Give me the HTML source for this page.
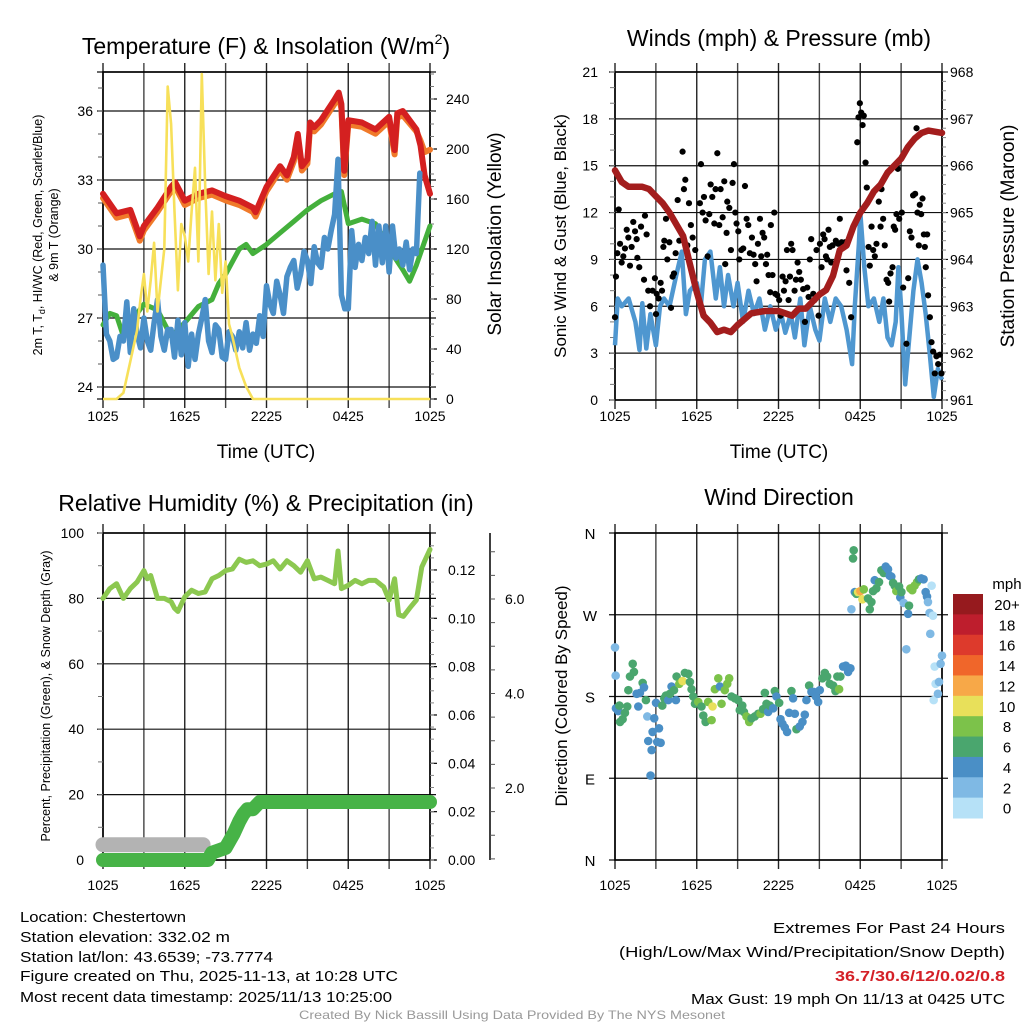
<!DOCTYPE html>
<html><head><meta charset="utf-8"><style>
body{margin:0;background:#fff;}
svg{display:block;font-family:"Liberation Sans",sans-serif;}
</style></head><body>
<svg id="chart" width="1024" height="1024" viewBox="0 0 1024 1024" xmlns="http://www.w3.org/2000/svg">
<rect x="0" y="0" width="1024" height="1024" fill="#fff"/>
<g id="static" font-family="Liberation Sans, sans-serif" fill="#000">
<text x="266" y="54" font-size="23" text-anchor="middle">Temperature (F) &amp; Insolation (W/m<tspan font-size="14" dy="-10">2</tspan><tspan dy="10">)</tspan></text>
<text x="779" y="46" font-size="23" text-anchor="middle">Winds (mph) &amp; Pressure (mb)</text>
<text x="266" y="511" font-size="23" text-anchor="middle">Relative Humidity (%) &amp; Precipitation (in)</text>
<text x="779" y="505" font-size="23" text-anchor="middle">Wind Direction</text>
<text x="266" y="458" font-size="19" text-anchor="middle">Time (UTC)</text>
<text x="779" y="458" font-size="19" text-anchor="middle">Time (UTC)</text>
<text transform="translate(42,235) rotate(-90)" font-size="12.5" text-anchor="middle">2m T, T<tspan font-size="9" dy="3">d</tspan><tspan dy="-3">, HI/WC (Red, Green, Scarlet/Blue)</tspan></text>
<text transform="translate(58,235) rotate(-90)" font-size="12.5" text-anchor="middle">&amp; 9m T (Orange)</text>
<text transform="translate(501,234) rotate(-90)" font-size="19" text-anchor="middle">Solar Insolation (Yellow)</text>
<text transform="translate(566,236) rotate(-90)" font-size="17" text-anchor="middle">Sonic Wind &amp; Gust (Blue, Black)</text>
<text transform="translate(1014,236) rotate(-90)" font-size="19" text-anchor="middle">Station Pressure (Maroon)</text>
<text transform="translate(50,696) rotate(-90)" font-size="12.5" text-anchor="middle">Percent, Precipitation (Green), &amp; Snow Depth (Gray)</text>
<text transform="translate(567,696) rotate(-90)" font-size="17" text-anchor="middle">Direction (Colored By Speed)</text>
<g font-size="14.5">
<text x="20" y="922" textLength="166" lengthAdjust="spacingAndGlyphs">Location: Chestertown</text>
<text x="20" y="942" textLength="210" lengthAdjust="spacingAndGlyphs">Station elevation: 332.02 m</text>
<text x="20" y="962" textLength="253" lengthAdjust="spacingAndGlyphs">Station lat/lon: 43.6539; -73.7774</text>
<text x="20" y="981" textLength="378" lengthAdjust="spacingAndGlyphs">Figure created on Thu, 2025-11-13, at 10:28 UTC</text>
<text x="20" y="1002" textLength="372" lengthAdjust="spacingAndGlyphs">Most recent data timestamp: 2025/11/13 10:25:00</text>
</g>
<g font-size="14.5" text-anchor="end">
<text x="1005" y="933" textLength="232" lengthAdjust="spacingAndGlyphs">Extremes For Past 24 Hours</text>
<text x="1005" y="957" textLength="386" lengthAdjust="spacingAndGlyphs">(High/Low/Max Wind/Precipitation/Snow Depth)</text>
<text x="1005" y="981" font-weight="bold" fill="#d42027" textLength="170" lengthAdjust="spacingAndGlyphs">36.7/30.6/12/0.02/0.8</text>
<text x="1005" y="1004" textLength="314" lengthAdjust="spacingAndGlyphs">Max Gust: 19 mph On 11/13 at 0425 UTC</text>
</g>
<text x="512" y="1019" font-size="12" fill="#999" text-anchor="middle" textLength="426" lengthAdjust="spacingAndGlyphs">Created By Nick Bassill Using Data Provided By The NYS Mesonet</text>
</g>
</svg>
<script>
// ---------- Temperature panel data ----------
const redTimes = [0,1,2,2.7,3,4,5,5.3,6,7,8,9,10,11,11.2,12,13,13.5,14,14.3,14.6,15,15.2,15.5,16,17,17.3,17.5,17.7,18,19,20,21,21.4,21.6,22,23,23.3,23.6,24];
const redVals = [32.4,31.55,31.7,30.55,31.0,31.8,32.7,32.9,32.1,32.4,32.55,32.3,32.1,31.8,31.6,32.7,33.6,33.2,34.0,35.0,33.6,33.9,35.5,35.3,35.6,36.5,36.8,36.3,33.4,35.6,35.5,35.2,35.75,34.3,35.9,36.0,35.2,34.5,33.2,32.4];
const orangeVals = [32.3,31.45,31.6,30.45,30.9,31.7,32.6,32.8,32.0,32.3,32.45,32.2,32.0,31.7,31.5,32.6,33.5,33.1,33.9,34.9,33.5,33.8,35.4,35.2,35.5,36.4,36.7,36.2,33.3,35.5,35.4,35.1,35.65,34.2,35.8,35.9,35.2,34.8,34.3,34.4];
const greenTimes = [0,0.5,1,1.5,2,2.5,3,4,5,6,7,8,8.5,9,10,10.5,11,12,13,14,15,16,17,17.5,18,19,20,21,22,22.5,23,24];
const greenVals = [26.7,27.2,27.1,26.2,26.6,27.2,27.6,27.35,26.2,26.8,27.5,27.8,28.5,28.9,30.0,30.2,29.8,30.2,30.7,31.2,31.7,32.1,32.4,32.5,31.1,31.3,31.1,30.0,29.1,28.6,29.3,31.0];
const blueTimes = [0,0.25,0.5,0.75,1,1.25,1.5,1.75,2,2.25,2.5,2.75,3,3.25,3.5,3.75,4,4.25,4.5,4.75,5,5.25,5.5,5.75,6,6.25,6.5,6.75,7,7.25,7.5,7.75,8,8.25,8.5,8.75,9,9.25,9.5,9.75,10,10.25,10.5,10.75,11,11.25,11.5,11.75,12,12.25,12.5,12.75,13,13.25,13.5,13.75,14,14.25,14.5,14.75,15,15.25,15.5,15.75,16,16.25,16.5,16.75,17,17.25,17.5,17.75,18,18.25,18.5,18.75,19,19.25,19.5,19.75,20,20.25,20.5,20.75,21,21.25,21.5,21.75,22,22.25,22.5,22.75,23,23.25];
const blueVals = [29.3,26.3,26.0,25.2, 25.3,26.2,26.0,27.7, 25.5,27.4,26.3,25.7, 27.0,26.0,25.6,26.8, 27.8,26.2,25.6,26.5, 26.5,25.3,26.9,25.4, 26.8,24.9,26.3,25.2, 26.3,27.0,27.8,26.0, 25.5,26.7,26.5,25.3, 25.2,26.4,26.2,25.6, 26.4,25.7,26.8,25.6, 26.3,25.9,27.1,26.2, 28.4,27.6,27.2,28.6, 28.0,27.2,28.8,29.2, 29.5,28.3,28.9,29.9, 29.5,28.5,30.1,29.4, 29.2,30.5,30.0,30.8, 31.5,33.9,28.0,27.4, 27.4,30.8,29.2,30.2, 29.5,30.5,29.8,31.2, 29.3,31.0,29.4,31.0, 29.0,31.0,29.6,30.0, 29.3,30.3,29.1,30.0, 29.8,33.3];
const solarTimes = [0,1,1.5,2,2.5,2.75,3,3.25,3.5,3.75,4,4.5,4.75,5,5.25,5.5,5.75,6,6.25,6.5,6.75,7,7.25,7.5,7.75,8,8.25,8.5,8.75,9,9.25,9.5,10,10.5,11,24];
const solarVals = [0,0,5,30,55,80,100,70,95,125,70,120,250,220,150,87,140,130,110,150,185,110,260,170,100,150,95,140,85,110,60,50,25,10,0,0];
const tempTicks = [24,27,30,33,36];
const solarTicks = [0,40,80,120,160,200,240];
const timeLabels = ["1025","1625","2225","0425","1025"];
// ---------- Winds panel data ----------
const windTimes = [0,0.2,0.5,1,1.5,1.8,2,2.3,2.6,3,3.3,3.6,4,4.5,4.9,5.2,5.5,6,6.3,6.6,7,7.4,7.7,8,8.3,8.7,9,9.4,9.8,10.2,10.6,11,11.4,11.8,12.2,12.5,12.9,13.2,13.6,13.9,14.3,14.7,15,15.4,15.8,16.2,16.6,17,17.4,17.6,17.9,18,18.3,18.6,19,19.4,19.7,20,20.3,20.6,20.8,21,21.3,21.6,21.9,22.2,22.5,22.8,23.1,23.4,23.7,24];
const windVals = [3.5,6.5,6.0,6.5,5.0,3.2,6.2,3.3,5.5,3.5,6.0,6.5,6.0,8.0,9.5,5.5,7.0,7.5,6.0,9.0,9.5,6.5,8.5,6.0,8.0,6.0,7.5,5.0,7.0,5.5,6.5,4.5,6.0,4.5,5.5,4.3,5.5,4.0,6.5,3.5,6.0,4.5,3.8,6.5,5.0,6.5,6.0,4.5,2.3,6.0,10.0,12.0,8.5,6.0,6.5,5.0,6.5,4.0,3.5,5.0,8.5,6.0,1.0,4.0,7.0,9.0,7.5,5.5,3.0,0.2,2.0,1.3];
const pressTimes = [0,0.5,1,2,2.5,3,3.5,4,5,5.5,6,6.5,7,7.5,8,8.5,9,10,11,12,12.5,13,13.5,14,14.5,15,15.5,16,16.5,17,17.5,18,18.5,19,19.5,20,21,21.5,22,22.5,23,24];
const pressVals = [965.9,965.65,965.55,965.55,965.5,965.35,965.2,965.0,964.5,963.9,963.3,962.8,962.65,962.45,962.5,962.45,962.6,962.85,962.9,962.9,962.85,962.8,962.95,962.95,963.1,963.25,963.35,963.65,964.2,964.3,964.7,965.0,965.2,965.45,965.6,965.85,966.15,966.4,966.58,966.7,966.75,966.7];
const gustTimes = [0.0,0.07,0.27,0.37,0.17,0.49,0.61,0.73,0.86,0.98,1.10,1.22,1.34,1.47,1.59,1.64,1.78,1.91,2.13,2.20,2.32,2.44,2.57,2.76,2.93,3.01,3.06,3.20,3.35,3.45,3.55,3.62,3.74,3.84,3.99,4.11,4.23,4.33,4.45,4.60,4.72,4.96,5.06,5.16,5.31,5.43,5.57,5.70,5.89,6.23,6.31,6.43,6.53,6.65,6.80,6.92,7.02,7.14,7.29,7.38,7.51,7.65,7.75,7.90,8.02,8.09,8.19,8.24,8.39,8.51,8.63,8.73,8.83,8.92,9.05,9.12,9.27,9.41,9.54,9.66,9.78,9.90,10.05,10.17,10.29,10.39,10.49,10.64,10.73,10.83,10.95,11.08,11.17,11.27,11.39,11.44,11.56,11.69,11.76,11.91,12.05,12.15,12.30,12.40,12.52,12.62,12.74,12.84,12.93,13.03,13.18,13.28,13.40,13.52,13.64,13.81,13.94,14.11,14.21,14.30,14.40,14.55,14.65,14.79,14.94,15.04,15.16,15.28,15.38,15.48,15.57,15.67,15.77,15.87,15.97,16.11,16.21,16.38,16.50,16.63,16.75,16.89,16.99,17.19,17.33,17.78,17.87,17.97,18.07,18.17,18.26,18.39,18.48,18.61,18.70,18.83,18.95,19.07,19.19,19.36,19.49,19.56,19.68,19.80,19.93,20.05,20.12,20.22,20.37,20.46,20.56,20.66,20.76,20.86,21.05,21.15,21.39,21.52,21.64,21.76,21.88,22.03,22.13,22.20,22.30,22.37,22.47,22.57,22.67,22.74,22.81,22.91,22.98,23.11,23.23,23.35,23.47,23.59,23.72,23.84,23.96];
const gustVals = [5.3,7.9,12.2,10.0,9.4,8.8,9.2,9.7,10.9,10.4,8.6,9.8,11.4,10.8,10.3,9.1,8.5,11.1,7.7,11.8,10.6,7.0,6.0,7.0,7.8,5.5,6.8,6.5,7.5,7.0,9.8,10.2,11.6,9.0,10.1,5.9,7.9,8.1,9.4,12.8,10.2,15.9,13.5,14.1,9.9,12.6,11.2,10.4,9.6,12.6,15.1,12.0,13.0,11.5,9.2,11.9,13.8,13.0,11.3,13.5,15.8,11.2,13.5,11.7,14.0,8.7,10.7,12.7,12.3,9.6,13.9,15.1,12.0,11.3,10.8,9.0,9.6,9.7,13.7,11.6,11.2,9.4,10.4,9.3,8.7,7.6,10.0,11.6,9.2,10.7,10.4,8.7,9.3,8.0,6.9,11.2,8.0,12.0,6.8,6.7,6.4,5.4,7.9,7.0,7.6,9.6,6.4,7.9,10.0,9.6,7.0,7.7,8.8,8.2,7.7,7.1,5.0,7.2,6.6,9.0,10.3,6.8,6.4,9.6,5.4,10.0,8.5,10.6,10.3,9.2,9.0,10.9,9.8,8.8,9.9,8.3,10.2,10.0,11.6,10.1,9.8,10.1,8.3,7.5,5.3,16.5,18.1,19.0,18.4,17.6,18.2,15.2,13.6,9.8,8.6,11.1,9.6,9.2,10.0,12.7,11.1,13.5,11.6,9.9,7.7,7.5,6.3,8.1,8.5,11.1,10.9,11.9,14.8,11.6,12.0,7.2,3.6,7.8,10.8,10.4,13.1,13.2,17.4,12.0,9.9,12.5,11.9,12.9,10.6,9.8,8.5,10.6,6.7,5.3,3.7,3.1,1.7,2.8,2.3,2.9,1.7];
const windTicks = [0,3,6,9,12,15,18,21];
const pressTicks = [961,962,963,964,965,966,967,968];
// ---------- Humidity panel data ----------
const rhTimes = [0,0.5,1,1.5,2,2.5,3,3.25,3.5,4,4.5,5,5.25,5.5,6,6.5,7,7.5,8,8.5,9,9.5,10,10.5,11,11.5,12,12.5,13,13.5,14,14.5,15,15.5,16,16.5,17,17.25,17.5,18,18.5,19,19.5,20,20.6,21,21.4,21.7,22.05,22.5,23,23.4,24];
const rhVals = [80,83,84.5,80,83,85,88.5,86,87,80,80,79,77,76,80.5,82.5,81.5,82,86,87,88.5,89,92,91,91.5,90,90.5,91.5,89,91.5,90,88,91.5,86,86.5,85.5,84.5,94.5,83,84,85.5,84.5,85.5,85.5,83.5,79.5,86,75,74.5,77,79.5,89.6,95];
const precipTimes = [0,7.7,8,8.5,9,9.3,9.6,10,10.3,10.6,11,11.5,12,24];
const precipVals = [0,0,0.003,0.004,0.005,0.008,0.011,0.016,0.019,0.021,0.021,0.024,0.024,0.024];
const snowTimes = [0,7.35];
const snowVals = [0.8,0.8];
const rhTicks = [0,20,40,60,80,100];
const precipTicks = ["0.00","0.02","0.04","0.06","0.08","0.10","0.12"];
const snowTicks = ["2.0","4.0","6.0"];
// ---------- Wind direction panel data ----------
const dirTimes = [0.0,0.05,0.07,0.24,0.32,0.37,0.56,0.73,0.90,0.98,1.10,1.30,1.39,1.59,1.71,1.83,2.03,2.13,2.27,2.37,2.44,2.61,2.69,2.76,2.88,3.01,3.10,3.23,3.35,3.47,3.62,3.74,3.91,4.03,4.15,4.33,4.47,4.52,4.72,4.96,5.13,5.38,5.50,5.62,5.74,5.87,6.11,6.35,6.48,6.65,6.84,7.09,7.16,7.33,7.58,7.70,7.82,8.06,8.24,8.38,8.55,8.80,9.04,9.16,9.34,9.46,9.65,9.85,10.02,10.26,10.51,10.68,10.87,11.00,11.12,11.24,11.36,11.61,11.73,11.85,12.05,12.15,12.29,12.46,12.63,12.78,12.95,13.07,13.20,13.32,13.56,13.76,13.93,14.05,14.25,14.42,14.59,14.74,14.91,15.03,15.22,15.40,15.57,15.76,16.01,16.18,16.32,16.45,16.54,16.74,16.94,17.11,17.28,17.35,17.47,17.52,17.60,17.72,17.84,18.01,18.16,18.26,18.57,18.70,18.82,18.94,19.06,19.18,19.38,19.55,19.72,19.87,20.04,20.16,20.28,20.41,20.53,20.65,20.85,20.94,21.02,21.19,21.38,21.51,21.58,21.68,21.82,21.99,22.17,22.31,22.48,22.65,22.80,22.90,22.97,23.09,23.14,23.24,23.34,23.46,23.53,23.39,23.70,23.78,23.90,24.00];
const dirVals = [234,203,167,164,170,152,155,162,169,187,202,216,207,183,169,184,195,190,176,158,131,93,121,141,156,173,130,145,129,170,178,181,176,183,191,187,176,202,194,197,206,205,196,188,180,172,174,169,159,152,174,154,169,188,200,191,172,187,194,200,180,178,176,165,170,163,158,152,156,158,161,161,166,184,172,163,170,167,186,180,173,155,150,146,141,162,186,178,161,144,147,152,160,176,192,185,185,180,174,187,200,206,202,194,192,186,202,188,202,213,214,207,211,276,332,341,295,293,295,296,287,298,288,276,284,296,308,299,306,319,316,323,320,313,312,305,302,296,301,289,295,283,232,271,280,299,297,302,306,309,310,309,295,290,284,272,249,302,269,213,194,176,183,196,216,225];
const dirSpeeds = [3,3,5,5,7,7,7,7,7,7,7,7,7,5,5,5,7,5,7,3,5,5,5,5,5,5,5,5,5,7,7,7,5,7,5,7,5,7,9,11,7,7,7,7,7,7,9,7,7,7,9,9,11,9,9,5,9,9,9,9,7,7,7,7,7,7,9,9,7,7,7,9,7,7,7,5,7,5,7,5,7,5,5,5,5,5,7,5,5,7,5,5,5,5,7,5,5,5,5,5,7,7,7,7,7,7,7,9,7,5,5,5,5,3,7,7,5,7,11,13,11,9,7,7,7,7,5,7,7,7,7,5,5,5,5,7,7,9,7,5,7,3,3,5,7,9,9,9,9,7,5,5,5,5,3,3,3,1,1,1,1,1,3,3,3,3];
const dirTickLabels = ["N","E","S","W","N"];
const speedLabels = ["0","2","4","6","8","10","12","14","16","18","20+"];
const speedColors = ["#b6e1f7","#7fb9e4","#4a8fc6","#4aa66e","#7cc24a","#e8e05a","#f7a848","#f0662a","#dd3a2c","#be1e2d","#961a1e"];

// ---------- drawing ----------
const svg = document.getElementById('chart');
const NS = 'http://www.w3.org/2000/svg';
function mk(tag, attrs, parent){
  const el = document.createElementNS(NS, tag);
  for (const k in attrs) el.setAttribute(k, attrs[k]);
  (parent || svg).appendChild(el);
  return el;
}
function txt(x, y, s, size, anchor, parent){
  const el = mk('text', {x:x, y:y, 'font-size':size, 'text-anchor':anchor, fill:'#000'}, parent);
  el.textContent = s;
  return el;
}
function pathFrom(times, vals, xf, yf){
  let d = '';
  for (let i = 0; i < times.length; i++) d += (i ? 'L' : 'M') + xf(times[i]).toFixed(1) + ',' + yf(vals[i]).toFixed(1);
  return d;
}
function frame(X0, X1, top, bot, name, hLines){
  const g = mk('g', {});
  
  
  for (let i = 0; i <= 8; i++){
    const x = X0 + i * (X1 - X0) / 8;
    const l = mk('line', {x1:x, x2:x, y1:top - 9, y2:bot + 9, stroke:(i % 2 ? '#444' : '#222'), 'stroke-width':1.4}, g);
    
    
  }
  hLines.forEach(y => {
    const l = mk('line', {x1:X0 - 6, x2:X1 + 6, y1:y, y2:y, stroke:'#111', 'stroke-width':1.2}, g);
    
    
  });
  const b = mk('rect', {x:X0, y:top, width:X1 - X0, height:bot - top, fill:'none', stroke:'#000', 'stroke-width':1.6}, g);
  
  
  return g;
}
function timeAxis(X0, X1, y){
  const g = mk('g', {});
  
  
  timeLabels.forEach((s, i) => {
    const t = txt(X0 + i * (X1 - X0) / 4, y, s, 14, 'middle', g);
    
    
  });
}

// Panel A: temperature
const A = {X0:103, X1:430, top:72, bot:399};
const xA = t => A.X0 + t * (A.X1 - A.X0) / 24;
const yT = v => 111 + (36 - v) * 23;
const yS = v => A.bot - v * 1.25;
frame(A.X0, A.X1, A.top, A.bot, 'temperature-plot-frame', tempTicks.map(yT).concat([A.top, A.bot]));
tempTicks.forEach(v => {
  const t = txt(93, yT(v) + 5, String(v), 14, 'end');
  
  
});
for (let v = 24; v <= 37.5; v += 1) mk('line', {x1:A.X0 - 5, x2:A.X0, y1:yT(v), y2:yT(v), stroke:'#555', 'stroke-width':1});
solarTicks.forEach(v => {
  const t = txt(446, yS(v) + 5, String(v), 14, 'start');
  
  
  mk('line', {x1:A.X1, x2:A.X1 + 7, y1:yS(v), y2:yS(v), stroke:'#000', 'stroke-width':1.2});
});
for (let v = 0; v <= 260; v += 10) mk('line', {x1:A.X1, x2:A.X1 + 4, y1:yS(v), y2:yS(v), stroke:'#777', 'stroke-width':1});
timeAxis(A.X0, A.X1, 421);
const pOr = mk('path', {d:pathFrom(redTimes, orangeVals, xA, v => yT(v) + 2), fill:'none', stroke:'#f07a2a', 'stroke-width':6, 'stroke-linejoin':'round', 'stroke-linecap':'round'});


const pRed = mk('path', {d:pathFrom(redTimes, redVals, xA, yT), fill:'none', stroke:'#d42020', 'stroke-width':6, 'stroke-linejoin':'round', 'stroke-linecap':'round'});


const pGr = mk('path', {d:pathFrom(greenTimes, greenVals, xA, yT), fill:'none', stroke:'#44b03c', 'stroke-width':5, 'stroke-linejoin':'round', 'stroke-linecap':'round'});


const pBl = mk('path', {d:pathFrom(blueTimes, blueVals, xA, yT), fill:'none', stroke:'#4a8fc8', 'stroke-width':5.5, 'stroke-linejoin':'round', 'stroke-linecap':'round'});


const pYe = mk('path', {d:pathFrom(solarTimes, solarVals, xA, yS), fill:'none', stroke:'#f7e05a', 'stroke-width':2.6, 'stroke-linejoin':'round'});



// Panel B: winds
const B = {X0:615, X1:942, top:72, bot:400};
const xB = t => B.X0 + t * (B.X1 - B.X0) / 24;
const yW = v => B.bot - v * (B.bot - B.top) / 21;
const yP = p => B.bot - (p - 961) * (B.bot - B.top) / 7;
frame(B.X0, B.X1, B.top, B.bot, 'winds-plot-frame', windTicks.map(yW));
windTicks.forEach(v => {
  const t = txt(598, yW(v) + 5, String(v), 14, 'end');
  
  
});
for (let v = 0; v <= 21; v += 1) mk('line', {x1:B.X0 - 5, x2:B.X0, y1:yW(v), y2:yW(v), stroke:'#777', 'stroke-width':1});
pressTicks.forEach(v => {
  const t = txt(950, yP(v) + 5, String(v), 14, 'start');
  
  
});
for (let v = 961; v <= 968; v += 0.2) mk('line', {x1:B.X1, x2:B.X1 + 4, y1:yP(v), y2:yP(v), stroke:'#888', 'stroke-width':1});
timeAxis(B.X0, B.X1, 421);
const pW = mk('path', {d:pathFrom(windTimes, windVals, xB, yW), fill:'none', stroke:'#4f97d0', 'stroke-width':4.5, 'stroke-linejoin':'round'});


const gG = mk('g', {});


gustTimes.forEach((t, i) => {
  const c = mk('circle', {cx:xB(t), cy:yW(gustVals[i]), r:3.1, fill:'#000'}, gG);
  
  
});
const pP = mk('path', {d:pathFrom(pressTimes, pressVals, xB, yP), fill:'none', stroke:'#a31d1d', 'stroke-width':6.5, 'stroke-linejoin':'round', 'stroke-linecap':'round'});



// Panel C: humidity
const C = {X0:103, X1:430, top:533, bot:860};
const xC = t => C.X0 + t * (C.X1 - C.X0) / 24;
const yRH = v => C.bot - v * (C.bot - C.top) / 100;
const yPr = v => C.bot - v * 2417;
const ySn = v => 882.5 - v * 47.25;
frame(C.X0, C.X1, C.top, C.bot, 'humidity-plot-frame', rhTicks.map(yRH));
rhTicks.forEach(v => {
  const t = txt(84, yRH(v) + 5, String(v), 14, 'end');
  
  
});
for (let v = 0; v <= 100; v += 10) mk('line', {x1:C.X0 - 5, x2:C.X0, y1:yRH(v), y2:yRH(v), stroke:'#777', 'stroke-width':1});
precipTicks.forEach(s => {
  const v = parseFloat(s);
  const t = txt(448, yPr(v) + 5, s, 14, 'start');
  
  
  mk('line', {x1:C.X1, x2:C.X1 + 7, y1:yPr(v), y2:yPr(v), stroke:'#000', 'stroke-width':1.2});
});
for (let v = 0; v <= 0.135; v += 0.005) mk('line', {x1:C.X1, x2:C.X1 + 4, y1:yPr(v), y2:yPr(v), stroke:'#888', 'stroke-width':1});
const snAx = mk('line', {x1:490, x2:490, y1:533, y2:860, stroke:'#000', 'stroke-width':1.5});


for (let v = 0.5; v <= 7; v += 0.5) { const y = ySn(v); if (y > 536 && y < 860) mk('line', {x1:490, x2:495, y1:y, y2:y, stroke:'#555', 'stroke-width':1}); }
snowTicks.forEach(s => {
  const t = txt(505, ySn(parseFloat(s)) + 5, s, 14, 'start');
  
  
});
timeAxis(C.X0, C.X1, 890);
const pRH = mk('path', {d:pathFrom(rhTimes, rhVals, xC, yRH), fill:'none', stroke:'#8cc850', 'stroke-width':5, 'stroke-linejoin':'round', 'stroke-linecap':'round'});


const pSn = mk('path', {d:pathFrom(snowTimes, snowVals, xC, ySn), fill:'none', stroke:'#b3b3b3', 'stroke-width':15, 'stroke-linecap':'round'});


const pPr = mk('path', {d:pathFrom(precipTimes, precipVals, xC, yPr), fill:'none', stroke:'#47b347', 'stroke-width':14, 'stroke-linejoin':'round', 'stroke-linecap':'round'});



// Panel D: wind direction
const D = {X0:615, X1:942, top:533, bot:860};
const xD = t => D.X0 + t * (D.X1 - D.X0) / 24;
const yD = d => D.bot - d * (D.bot - D.top) / 360;
frame(D.X0, D.X1, D.top, D.bot, 'direction-plot-frame', [0,90,180,270,360].map(yD));
dirTickLabels.forEach((s, i) => {
  const t = txt(590, yD(i * 90) + 6, s, 15, 'middle');
  
  
});
timeAxis(D.X0, D.X1, 890);
const gD = mk('g', {});


dirTimes.forEach((t, i) => {
  const idx = Math.min(10, Math.floor(dirSpeeds[i] / 2));
  const c = mk('circle', {cx:xD(t), cy:yD(dirVals[i]), r:4.3, fill:speedColors[idx]}, gD);
  
  
});
// legend
const gL = mk('g', {});


const lt = txt(1007, 589, 'mph', 15, 'middle', gL);


const bh = (818 - 594) / 11;
speedLabels.forEach((s, i) => {
  const k = 10 - i;
  const r = mk('rect', {x:953, y:594 + i * bh, width:30, height:bh + 0.5, fill:speedColors[k]}, gL);
  
  
  const t = txt(1007, 594 + i * bh + 16, speedLabels[k], 15, 'middle', gL);
  
  
});
// keep static text on top
svg.appendChild(document.getElementById('static'));
</script>
</body></html>
